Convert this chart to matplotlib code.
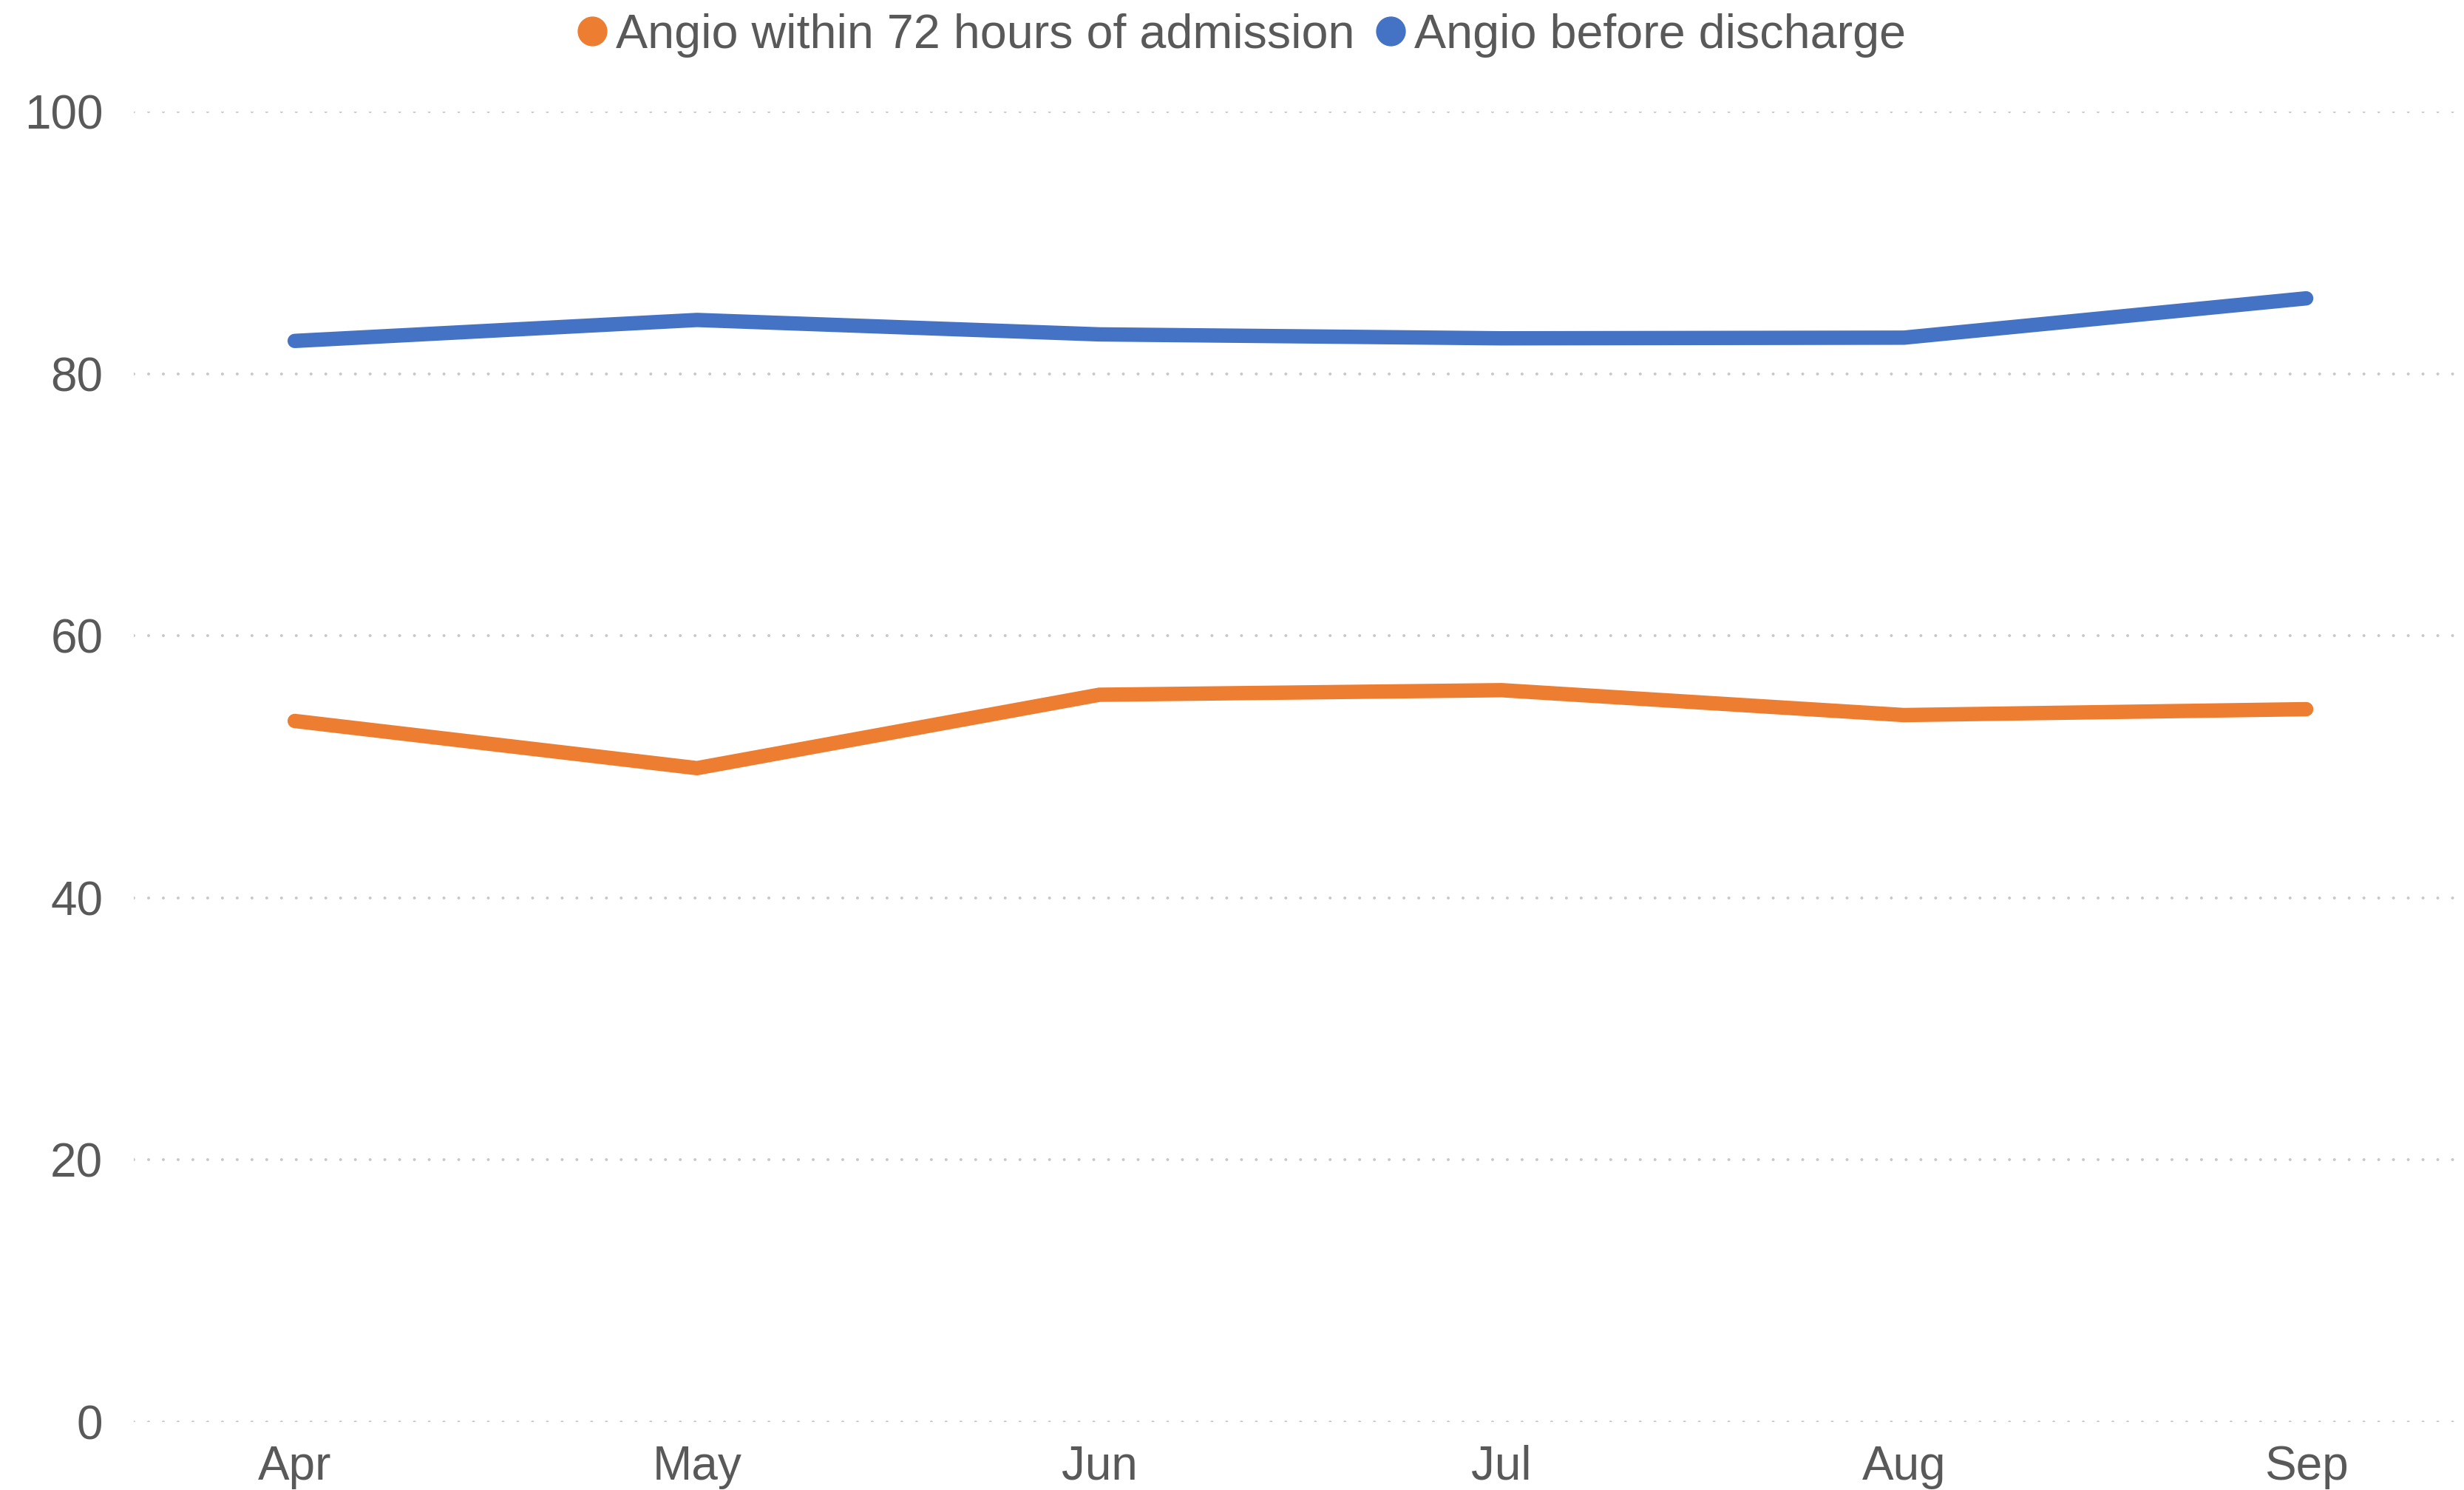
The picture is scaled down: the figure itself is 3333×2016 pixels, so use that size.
import numpy as np
import matplotlib
matplotlib.use("Agg")
import matplotlib.pyplot as plt
from matplotlib.lines import Line2D

# values
months = ["Apr", "May", "Jun", "Jul", "Aug", "Sep"]
within_72h = [53.5, 49.9, 55.5, 55.85, 53.95, 54.4]
before_discharge = [82.5, 84.1, 83.0, 82.7, 82.75, 85.75]
series_names = ["Angio within 72 hours of admission", "Angio before discharge"]
series_colors = ["#ED7D31", "#4472C4"]
y_ticks = [0, 20, 40, 60, 80, 100]

plt.rcParams['font.family'] = ['Liberation Sans', 'DejaVu Sans']
text_col = "#595959"

fig = plt.figure(figsize=(33.33, 20.16), dpi=100)
ax = fig.add_axes([0.0543, 0.0456, 0.9437, 0.8795])

x = np.arange(len(months))
for vals, col in zip([within_72h, before_discharge], series_colors):
    ax.plot(x, vals, color=col, lw=14, solid_capstyle='round',
            solid_joinstyle='miter', zorder=3)

ax.set_xlim(-0.4, 5.38)
ax.set_ylim(0, 100)
ax.set_yticks(y_ticks)
ax.set_xticks(x)
ax.set_xticklabels(months)
ax.tick_params(axis='both', length=0, labelsize=46, labelcolor=text_col)
ax.tick_params(axis='y', pad=30)
ax.tick_params(axis='x', pad=22)

for s in ax.spines.values():
    s.set_visible(False)

ax.grid(axis='y', color='#c8c8c8', lw=2.9, linestyle=(0, (0.01, 4.95)),
        dash_capstyle='round', zorder=0)
ax.grid(axis='x', visible=False)
ax.set_axisbelow(True)

handles = [Line2D([], [], ls='none', marker='o', markersize=28,
                  markerfacecolor=c, markeredgecolor=c) for c in series_colors]
fig.legend(handles, series_names, loc='upper center', bbox_to_anchor=(0.503, 1.02),
           ncol=2, frameon=False, fontsize=46.5, labelcolor=text_col,
           handletextpad=0.1, columnspacing=0.35, handlelength=0.8)

fig.savefig("out.png", dpi=100)
